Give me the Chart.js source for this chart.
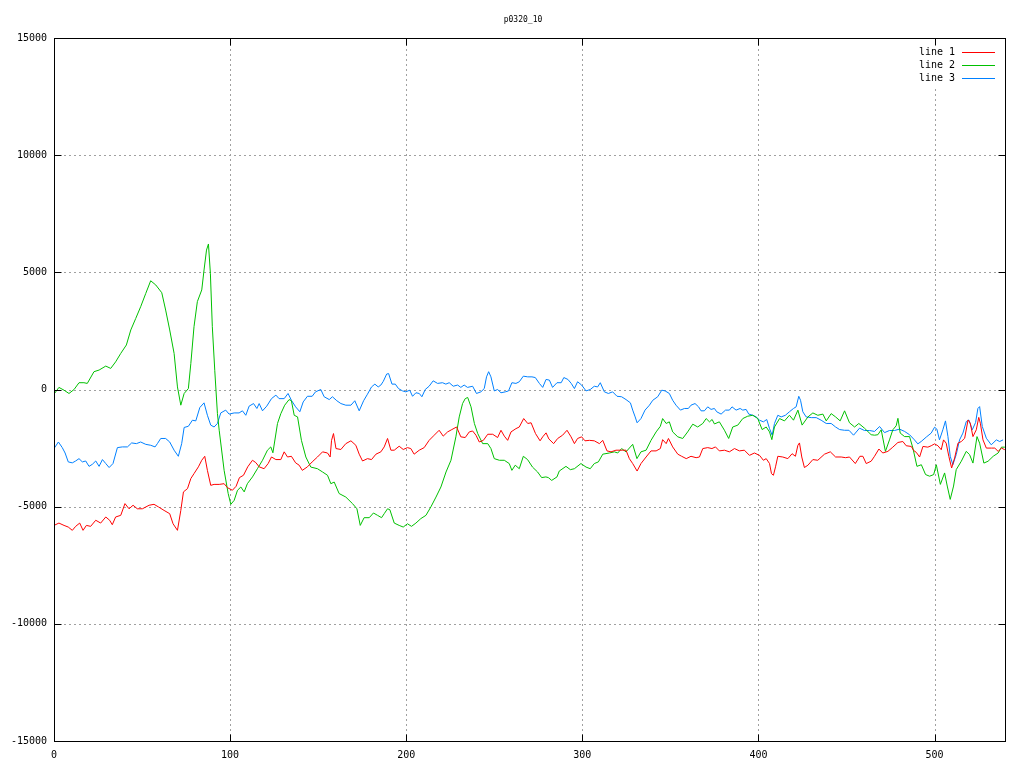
<!DOCTYPE html>
<html>
<head>
<meta charset="utf-8">
<title>p0320_10</title>
<script src="https://cdn.jsdelivr.net/npm/chart.js@4/dist/chart.umd.min.js"></script>
<style>
  html, body { margin: 0; padding: 0; background: #fff; }
  canvas { display: block; }
</style>
</head>
<body>
<canvas id="chart" width="1024" height="768"></canvas>
<script>
/* ================================
   DATA
================================ */
const chartTitle = "p0320_10";
const seriesLabels = ["line 1", "line 2", "line 3"];
const xTicks = [0, 100, 200, 300, 400, 500];
const yTicks = [-15000, -10000, -5000, 0, 5000, 10000, 15000];

const line1X = [0, 2.8, 5.7, 8.1, 10.4, 12.3, 14.6, 16.5, 18.4, 20.8, 23.7, 26.5, 29.4, 31.6, 33.1, 35, 37.9, 40.3, 42.6, 44.9,
  47.3, 50.2, 54, 56.8, 59.3, 62.5, 65.7, 67.6, 70.1, 72, 73.5, 75.8, 77.7, 79.5, 82, 83.9, 85.6, 87.1, 89, 90.9,
  93.8, 96.6, 98.5, 101.3, 103.4, 105.3, 107.6, 110, 112.7, 114.6, 116.5, 119.3, 121.6, 123.5, 126, 128.8, 130.7, 132.6, 134.8, 137.2,
  139.2, 141, 143.9, 146.6, 149.6, 152.5, 155.3, 156.8, 157.6, 158.7, 160.1, 162.9, 165.7, 168.6, 171.4, 173.3, 175.2, 178, 180.3, 182.8,
  185.6, 187.5, 189.4, 191.3, 193.2, 196, 198.3, 200.7, 202.6, 204.5, 207.4, 210.2, 213, 215.9, 218.7, 221, 223.5, 225.9, 228.6, 231,
  233.5, 235.8, 237.7, 239.6, 241.5, 243.8, 246.3, 249.1, 251.9, 253.8, 255.7, 257.6, 259.5, 262.3, 264.2, 266.7, 269, 270.9, 273.4, 276,
  277.5, 279.4, 281, 283.7, 286, 288.8, 291.3, 293.6, 295.5, 297.3, 299.6, 301.5, 304, 306.8, 309.7, 311.6, 314, 316.3, 319.1, 322.9,
  324.8, 326.7, 328.6, 331.1, 333.3, 336.2, 339, 341.9, 344.3, 345.6, 347.6, 348.9, 351.3, 354.2, 356.4, 359, 361.7, 364.6, 366.5, 368.4,
  371.2, 373.6, 375.6, 377.8, 380.7, 383.5, 386.4, 389.2, 392, 394.9, 397.7, 400.6, 402.8, 404.4, 406.3, 407.4, 408.5, 409.7, 411, 413.8,
  416.7, 419.1, 421, 422.4, 423.3, 424.6, 426.1, 428.1, 430.9, 433.7, 437.5, 440.8, 443.8, 447, 449.5, 451.7, 455, 457.6, 459.3, 461.2,
  464, 465.9, 468.4, 470.6, 473.5, 476.3, 479.2, 482, 483.9, 486.8, 488.1, 489.6, 491.5, 493.4, 496.2, 498.1, 500, 501.9, 503.8, 505.1,
  506.6, 508.1, 509.7, 511.4, 513.3, 515.2, 517.1, 519, 520.3, 521.8, 523.7, 525.1, 526, 527.5, 529.4, 532.3, 534.2, 536.1, 538, 539.9];
const line1Y = [-5800, -5700, -5800, -5870, -6010, -5840, -5700, -6010, -5800, -5840, -5580, -5700, -5440, -5580, -5770, -5440, -5370, -4870, -5090, -4940,
  -5090, -5090, -4940, -4900, -5010, -5160, -5300, -5730, -6010, -5160, -4370, -4230, -3800, -3590, -3300, -3020, -2850, -3450, -4090, -4050,
  -4050, -4020, -4190, -4300, -4130, -3760, -3660, -3300, -3020, -3120, -3300, -3380, -3160, -2880, -2990, -2990, -2660, -2880, -2850, -3130,
  -3230, -3450, -3300, -3090, -2880, -2660, -2710, -2880, -2170, -1880, -2520, -2560, -2310, -2190, -2380, -2760, -3050, -2950, -2990, -2760,
  -2660, -2450, -2090, -2590, -2590, -2420, -2560, -2480, -2520, -2760, -2590, -2480, -2170, -1950, -1740, -1990, -1810, -1710, -1600, -2020,
  -2050, -1810, -1770, -1950, -2240, -2170, -1910, -1910, -2050, -1740, -1990, -2170, -1810, -1670, -1600, -1240, -1450, -1420, -1880, -2190,
  -2020, -1850, -2110, -2310, -2090, -1950, -1740, -2020, -2310, -2090, -2020, -2190, -2170, -2190, -2310, -2170, -2620, -2660, -2590, -2590,
  -2590, -2950, -3160, -3480, -3160, -2880, -2620, -2620, -2520, -2140, -2310, -2090, -2450, -2760, -2850, -2950, -2850, -2910, -2880, -2520,
  -2480, -2520, -2450, -2620, -2590, -2660, -2520, -2620, -2590, -2810, -2710, -2810, -3020, -2950, -3160, -3590, -3660, -3300, -2850, -2880,
  -2950, -2740, -2850, -2380, -2280, -2880, -3330, -3230, -2990, -3020, -2760, -2660, -2880, -2880, -2910, -2880, -3160, -2850, -2850, -3160,
  -3060, -2850, -2540, -2710, -2640, -2460, -2260, -2220, -2400, -2430, -2600, -2680, -2880, -2430, -2460, -2400, -2320, -2400, -2570, -2150,
  -2290, -2850, -3350, -2920, -2290, -2220, -2080, -1300, -1440, -2010, -1720, -1190, -1440, -2150, -2500, -2500, -2500, -2640, -2500, -2570];

const line2X = [0, 2.8, 5.7, 8.5, 11.4, 14.2, 17, 18.9, 22.7, 25.6, 29.4, 32.2, 35, 37.9, 41.1, 43.6, 46.4, 49.2, 52.1, 54.9,
  57.8, 61.2, 63.4, 65.7, 68.2, 70.1, 72, 73.9, 76.3, 77.7, 79.5, 81.4, 83.9, 85.2, 86.6, 87.7, 88.8, 89.9, 91.3, 92.8,
  93.8, 96.6, 98.9, 100.4, 102.3, 104.2, 106.1, 108, 109.8, 112.7, 115.5, 118.4, 121.2, 123.1, 124.3, 126.9, 128.8, 131, 133.5, 134.8,
  136.4, 138.3, 140.5, 143, 145.8, 149.6, 152.5, 155.3, 157.2, 159.1, 161.9, 165.7, 169.5, 172, 173.9, 176.1, 179, 181.4, 183.7, 186,
  187.5, 189.4, 190.7, 193.2, 196, 198.3, 200.7, 203, 205.5, 208.3, 211.2, 214, 216.9, 219.7, 222.6, 225.4, 228.2, 230.1, 232, 233.5,
  234.9, 236.8, 238.7, 240.6, 243.4, 246.3, 248.1, 250, 252.9, 255.7, 258.5, 260, 261.9, 264.2, 266.5, 268.9, 271.7, 274.6, 276.9, 279.3,
  280.7, 282.6, 285.6, 286.9, 290.7, 293.2, 295.5, 299.2, 302.1, 304.5, 306.8, 309.1, 311.6, 315.3, 318.2, 320.1, 322.3, 324.8, 328.6, 331,
  333.3, 336.2, 339, 341.9, 344.3, 345.6, 347.6, 349.4, 351.3, 354.2, 357, 359.8, 362.7, 365.5, 368.4, 370.3, 372.2, 373.7, 375, 377.8,
  380.7, 383.1, 385.4, 388.3, 391.1, 393.9, 396.8, 399.6, 402.1, 404.4, 406.3, 407.6, 409.1, 412, 414.8, 417.6, 419.9, 422.4, 424.8, 428.1,
  430.9, 433.7, 436.6, 438.5, 441.3, 443.8, 446.4, 448.9, 451.7, 454.6, 457, 460.2, 464, 466, 467.8, 469.7, 472.1, 474.4, 476.3, 478.2,
  479.2, 480.5, 483, 485.8, 487.7, 490, 492.5, 494.9, 497.2, 499.5, 501, 503.3, 505.7, 507.2, 508.9, 510.8, 512.3, 515.2, 518, 519.9,
  521.8, 524.1, 525.6, 528, 530.4, 533.3, 536.1, 538, 539.9];
const line2Y = [-200, 90, -30, -170, 0, 290, 290, 260, 760, 830, 1000, 900, 1180, 1540, 1900, 2540, 3030, 3530, 4100, 4640,
  4460, 4130, 3390, 2540, 1540, 110, -670, -170, 40, 1110, 2680, 3750, 4250, 5100, 5950, 6210, 4960, 2680, 800, -1030,
  -1740, -3450, -4440, -4900, -4730, -4300, -4160, -4370, -4020, -3730, -3380, -3020, -2590, -2450, -2700, -1450, -1030, -670, -430, -480,
  -1100, -1170, -2170, -2880, -3310, -3380, -3520, -3660, -4020, -3950, -4440, -4590, -4870, -5090, -5800, -5470, -5470, -5270, -5370, -5470,
  -5300, -5090, -5130, -5700, -5800, -5870, -5730, -5840, -5700, -5510, -5370, -5010, -4590, -4160, -3520, -3020, -2020, -1170, -600, -390,
  -340, -740, -1450, -1880, -2310, -2310, -2520, -2950, -3020, -3020, -3160, -3450, -3230, -3380, -2850, -2990, -3310, -3520, -3760, -3730,
  -3760, -3880, -3730, -3480, -3280, -3420, -3380, -3160, -3310, -3380, -3160, -3090, -2760, -2710, -2660, -2710, -2520, -2660, -2340, -2950,
  -2660, -2590, -2170, -1810, -1570, -1240, -1450, -1380, -1810, -2020, -2090, -1810, -1480, -1600, -1450, -1240, -1380, -1280, -1470, -1380,
  -1740, -2090, -1600, -1520, -1240, -1140, -1100, -1240, -1710, -1600, -1810, -2140, -1600, -1240, -1340, -1100, -1310, -880, -1520, -1170,
  -1000, -1100, -1050, -1340, -1030, -1170, -1340, -910, -1420, -1600, -1450, -1650, -1930, -1950, -1930, -1720, -2640, -2150, -1720, -1550,
  -1230, -1860, -2010, -2010, -2500, -3280, -3210, -3630, -3700, -3630, -3210, -4050, -3560, -4120, -4690, -4120, -3420, -3060, -2640, -2780,
  -3140, -2010, -2290, -3140, -3060, -2850, -2710, -2460, -2460];

const line3X = [0, 2.5, 4.7, 6.3, 8.1, 10.4, 12.3, 14.2, 16.1, 18, 19.9, 21.8, 23.7, 25.6, 27.5, 29.4, 31.3, 33.5, 36, 38.8,
  41.7, 44.1, 46.8, 49.2, 52.1, 54.9, 57.4, 58.7, 60.6, 63.4, 65.7, 68.2, 70.6, 72.5, 73.9, 76.3, 78.6, 80.5, 82.8, 85.2,
  87.1, 89, 90.9, 92.8, 94.7, 97.5, 99.4, 102.3, 105.1, 107, 108.9, 110.8, 113.3, 115.2, 116.5, 118.4, 120.8, 123.5, 126, 127.8,
  130.7, 132.9, 134.8, 137.2, 139.6, 141.5, 143.9, 146.6, 148.5, 151.5, 153.4, 156.3, 158.1, 160.6, 162.9, 165.7, 168.6, 170.8, 173.3, 175.8,
  178, 180.3, 182.2, 184.1, 185.6, 187, 188.9, 190, 191.9, 193.8, 195.6, 197.9, 199.8, 202, 203.6, 205.5, 207.4, 208.9, 210.8, 213,
  215.3, 217.8, 220.6, 222.5, 224.4, 226.7, 229.2, 231, 232.9, 234.8, 237.7, 239.9, 242.4, 244.3, 245.6, 246.8, 248.1, 250, 251.9, 253.8,
  256.3, 258.1, 260, 262.3, 264.2, 266.5, 269, 271.4, 273.3, 275.6, 277.5, 279.4, 281.3, 283.1, 285.6, 288, 289.5, 291.8, 293.7, 295.5,
  297.3, 299.6, 302.1, 304.5, 306.8, 308.7, 310.2, 312.5, 314.8, 317.2, 319.7, 322.3, 324.8, 327.3, 328.6, 330, 331.1, 333.3, 335.6, 338.1,
  340, 342.8, 345.1, 347, 349.4, 351.3, 353.2, 355.7, 358, 360.2, 361.7, 364, 366, 367.4, 369.3, 371.2, 373.1, 375, 376.3, 378.8,
  381.3, 383.5, 385, 387.3, 389.6, 391.1, 393, 394.5, 396.8, 398.7, 400.6, 402.8, 404.7, 406.3, 407.8, 409.1, 411, 412.9, 415.3, 417.6,
  419.9, 421.4, 422.9, 423.9, 425.2, 427.1, 430, 432.8, 435.6, 438.5, 441.3, 443.8, 446.1, 448.9, 451.4, 454, 457.4, 460.2, 463.1, 465.9,
  468.8, 471.6, 474.4, 477.3, 480.1, 483, 485.8, 488.6, 490.5, 492.4, 495.3, 498.1, 500, 501.3, 502.8, 504.7, 506.2, 507.6, 508.9, 510.4,
  512.3, 514.2, 516.1, 518, 519.5, 521.4, 523.3, 524.6, 525.6, 527.1, 529.4, 532.2, 535.1, 537, 538.9];
const line3Y = [-2520, -2240, -2480, -2710, -3090, -3130, -3050, -2950, -3090, -3050, -3280, -3190, -3050, -3280, -2990, -3160, -3330, -3160, -2480, -2450,
  -2450, -2280, -2310, -2240, -2340, -2380, -2450, -2310, -2090, -2090, -2240, -2590, -2850, -2310, -1620, -1570, -1310, -1340, -770, -570,
  -1100, -1520, -1600, -1450, -1000, -880, -1050, -1000, -1000, -910, -1100, -710, -600, -810, -600, -910, -710, -390, -240, -390,
  -390, -170, -460, -740, -950, -530, -290, -290, -100, 0, -310, -430, -310, -480, -600, -670, -670, -480, -910, -480,
  -200, 110, 230, 110, 190, 350, 660, 680, 230, 230, 40, -60, -100, -30, -290, -140, -170, -310, 0, 140,
  370, 260, 290, 230, 290, 140, 190, 90, 190, 90, 140, -170, -100, 40, 540, 760, 540, -60, 0, -140,
  -100, -60, 290, 260, 330, 570, 540, 540, 510, 260, 90, 430, 400, 90, 290, 290, 510, 430, 260, 40,
  330, 190, -60, 0, 140, 110, 290, -100, -170, -100, -290, -310, -430, -570, -880, -1170, -1420, -1240, -880, -670,
  -460, -310, -30, -60, -170, -460, -670, -880, -810, -810, -670, -600, -740, -910, -910, -740, -850, -810, -950, -1050,
  -880, -880, -740, -880, -810, -880, -850, -1050, -1100, -1170, -1310, -1380, -1280, -1670, -1950, -1450, -1100, -1170, -1100, -950,
  -810, -740, -290, -460, -950, -1170, -1200, -1200, -1310, -1450, -1450, -1600, -1710, -1740, -1740, -1950, -1650, -1750, -1750, -1790,
  -1580, -1840, -1750, -1750, -1690, -1790, -1930, -2150, -2320, -2220, -2030, -1860, -1610, -1690, -2150, -1720, -1340, -2010, -2850, -3210,
  -2780, -2150, -1860, -1370, -1300, -1720, -1410, -810, -730, -1580, -2080, -2360, -2150, -2220, -2150];

const seriesColors = ["#ff0000", "#00c000", "#0080ff"];

/* ================================
   GNUPLOT STYLE FRAME
================================ */
const FONT = "'DejaVu Sans Mono', 'Liberation Mono', monospace";

const frame = {
  id: "frame",
  beforeDatasetsDraw(chart) {
    const { ctx, chartArea: a, scales: { x, y } } = chart;
    ctx.save();
    ctx.strokeStyle = "#a0a0a0";
    ctx.lineWidth = 1;
    ctx.setLineDash([2, 3]);
    xTicks.forEach(v => {
      const px = Math.round(x.getPixelForValue(v)) + 0.5;
      if (px <= a.left + 1 || px >= a.right - 1) return;
      ctx.beginPath();
      ctx.moveTo(px, a.bottom);
      ctx.lineTo(px, a.top);
      ctx.stroke();
    });
    yTicks.forEach(v => {
      const py = Math.round(y.getPixelForValue(v)) + 0.5;
      if (py <= a.top + 1 || py >= a.bottom - 1) return;
      ctx.beginPath();
      ctx.moveTo(a.left, py);
      ctx.lineTo(a.right, py);
      ctx.stroke();
    });
    ctx.setLineDash([]);
    // key box is left clear of the grid
    ctx.fillStyle = "#fff";
    ctx.fillRect(a.right - 92, a.top + 6, 90, 42);
    ctx.restore();
  },
  afterDatasetsDraw(chart) {
    const { ctx, chartArea: a, scales: { x, y } } = chart;
    const L = Math.round(a.left) + 0.5, R = Math.round(a.right) + 0.5;
    const T = Math.round(a.top) + 0.5, B = Math.round(a.bottom) + 0.5;
    ctx.save();
    ctx.strokeStyle = "#000";
    ctx.lineWidth = 1;
    ctx.strokeRect(L, T, R - L, B - T);
    const tl = 7;
    ctx.beginPath();
    xTicks.forEach(v => {
      const px = Math.round(x.getPixelForValue(v)) + 0.5;
      ctx.moveTo(px, B); ctx.lineTo(px, B - tl);
      ctx.moveTo(px, T); ctx.lineTo(px, T + tl);
    });
    yTicks.forEach(v => {
      const py = Math.round(y.getPixelForValue(v)) + 0.5;
      ctx.moveTo(L, py); ctx.lineTo(L + tl, py);
      ctx.moveTo(R, py); ctx.lineTo(R - tl, py);
    });
    ctx.stroke();

    // title
    ctx.fillStyle = "#000";
    ctx.font = "8px " + FONT;
    ctx.textAlign = "center";
    ctx.textBaseline = "middle";
    ctx.fillText(chartTitle, 523, 20);

    // key
    ctx.font = "10px " + FONT;
    ctx.textAlign = "right";
    chart.data.datasets.forEach((ds, i) => {
      const ky = 52 + i * 13;
      ctx.fillStyle = "#000";
      ctx.fillText(ds.label, 955, ky);
      ctx.strokeStyle = ds.borderColor;
      ctx.beginPath();
      ctx.moveTo(962, ky + 0.5);
      ctx.lineTo(995, ky + 0.5);
      ctx.stroke();
    });
    ctx.restore();
  }
};

/* ================================
   CHART
================================ */
const toPoints = (xs, ys) => xs.map((v, i) => ({ x: v, y: ys[i] }));
const seriesX = [line1X, line2X, line3X];
const seriesY = [line1Y, line2Y, line3Y];

new Chart(document.getElementById("chart"), {
  type: "line",
  data: {
    datasets: seriesLabels.map((label, i) => ({
      label,
      data: toPoints(seriesX[i], seriesY[i]),
      borderColor: seriesColors[i],
      borderWidth: 1,
      pointRadius: 0,
      tension: 0,
      fill: false
    }))
  },
  options: {
    responsive: false,
    animation: false,
    layout: { padding: { top: 38, right: 19, left: 0, bottom: 0 } },
    plugins: {
      legend: { display: false },
      title: { display: false },
      tooltip: { enabled: false }
    },
    scales: {
      x: {
        type: "linear",
        min: 0,
        max: 540,
        grid: { display: false, drawTicks: false },
        border: { display: false },
        ticks: { color: "#000", font: { family: FONT, size: 10 }, padding: 8, maxRotation: 0,
                 callback: v => String(v) },
        afterBuildTicks: s => { s.ticks = xTicks.map(v => ({ value: v })); },
        afterFit: s => { s.height = 27; }
      },
      y: {
        type: "linear",
        min: -15000,
        max: 15000,
        grid: { display: false, drawTicks: false },
        border: { display: false },
        ticks: { color: "#000", font: { family: FONT, size: 10 }, padding: 7,
                 callback: v => String(v) },
        afterBuildTicks: s => { s.ticks = yTicks.map(v => ({ value: v })); },
        afterFit: s => { s.width = 54; }
      }
    }
  },
  plugins: [frame]
});
</script>
</body>
</html>
